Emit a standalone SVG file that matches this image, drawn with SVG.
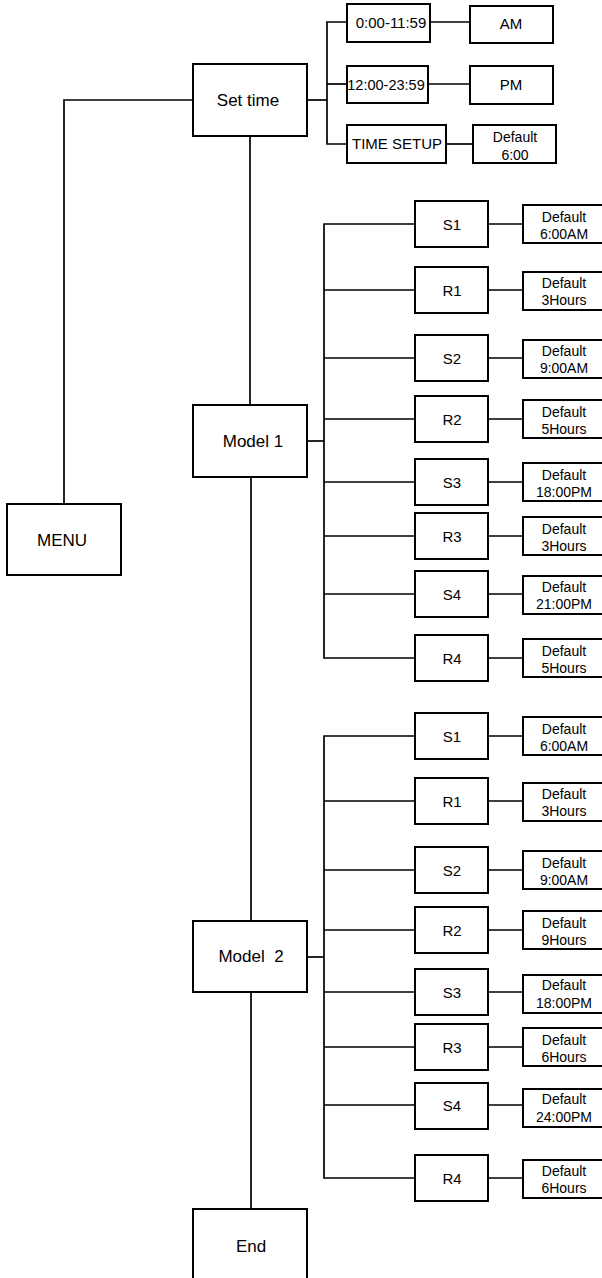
<svg xmlns="http://www.w3.org/2000/svg" width="602" height="1278" viewBox="0 0 602 1278">
<style>
rect{fill:#fff;stroke:#000;stroke-width:2}
text{font-family:"Liberation Sans",Arial,sans-serif;fill:#000;text-anchor:middle}
.big{font-size:17px}
.mid{font-size:15px}
.sm{font-size:14px}
#connectors line,#connectors polyline{stroke:#000;stroke-width:1.7;fill:none}
</style>
<rect x="0" y="0" width="602" height="1278" style="stroke:none"/>
<g id="connectors">
<polyline points="193,100 64,100 64,504"/>
<line x1="250" y1="136" x2="250" y2="405"/>
<line x1="251" y1="477" x2="251" y2="921"/>
<line x1="251" y1="992" x2="251" y2="1209"/>
<line x1="307" y1="100" x2="327" y2="100"/>
<polyline points="347,22 327,22 327,144 347,144"/>
<line x1="327" y1="84" x2="347" y2="84"/>
<line x1="430" y1="22" x2="470" y2="22"/>
<line x1="428" y1="84" x2="470" y2="84"/>
<line x1="446" y1="144" x2="473" y2="144"/>
<line x1="307" y1="441" x2="324" y2="441"/>
<polyline points="415,224 324,224 324,658 415,658"/>
<line x1="324" y1="290" x2="415" y2="290"/>
<line x1="324" y1="358" x2="415" y2="358"/>
<line x1="324" y1="419" x2="415" y2="419"/>
<line x1="324" y1="482" x2="415" y2="482"/>
<line x1="324" y1="536" x2="415" y2="536"/>
<line x1="324" y1="594" x2="415" y2="594"/>
<line x1="488" y1="224" x2="523" y2="224"/>
<line x1="488" y1="290" x2="523" y2="290"/>
<line x1="488" y1="358" x2="523" y2="358"/>
<line x1="488" y1="419" x2="523" y2="419"/>
<line x1="488" y1="482" x2="523" y2="482"/>
<line x1="488" y1="536" x2="523" y2="536"/>
<line x1="488" y1="594" x2="523" y2="594"/>
<line x1="488" y1="658" x2="523" y2="658"/>
<line x1="307" y1="957" x2="324" y2="957"/>
<polyline points="415,736 324,736 324,1178 415,1178"/>
<line x1="324" y1="801" x2="415" y2="801"/>
<line x1="324" y1="870" x2="415" y2="870"/>
<line x1="324" y1="930" x2="415" y2="930"/>
<line x1="324" y1="992" x2="415" y2="992"/>
<line x1="324" y1="1047" x2="415" y2="1047"/>
<line x1="324" y1="1105" x2="415" y2="1105"/>
<line x1="488" y1="736" x2="523" y2="736"/>
<line x1="488" y1="801" x2="523" y2="801"/>
<line x1="488" y1="870" x2="523" y2="870"/>
<line x1="488" y1="930" x2="523" y2="930"/>
<line x1="488" y1="992" x2="523" y2="992"/>
<line x1="488" y1="1047" x2="523" y2="1047"/>
<line x1="488" y1="1105" x2="523" y2="1105"/>
<line x1="488" y1="1178" x2="523" y2="1178"/>
</g>
<g id="menu"><rect x="7" y="504" width="114" height="71"/><text class="big" x="62" y="546">MENU</text></g>
<g id="settime"><rect x="193" y="64" width="114" height="72"/><text class="big" x="248" y="106">Set time</text></g>
<g id="am-range"><rect x="347" y="4" width="83" height="38"/><text class="mid" x="391" y="28">0:00-11:59</text></g>
<g id="am"><rect x="470" y="6" width="83" height="37"/><text class="mid" x="511" y="29">AM</text></g>
<g id="pm-range"><rect x="347" y="66" width="81" height="37"/><text class="mid" x="386" y="90" style="font-size:14.5px">12:00-23:59</text></g>
<g id="pm"><rect x="470" y="66" width="83" height="38"/><text class="mid" x="511" y="90">PM</text></g>
<g id="timesetup"><rect x="347" y="125" width="99" height="38"/><text class="mid" x="397" y="149">TIME SETUP</text></g>
<g id="timesetup-default"><rect x="473" y="125" width="83" height="38"/><text class="sm" x="515" y="142">Default</text><text class="sm" x="515" y="160">6:00</text></g>
<g id="model1"><rect x="193" y="405" width="114" height="72"/><text class="big" x="253" y="447">Model 1</text></g>
<g id="model2"><rect x="193" y="921" width="114" height="71"/><text class="big" x="251" y="962" style="white-space:pre">Model  2</text></g>
<g id="end"><rect x="193" y="1209" width="114" height="80"/><text class="big" x="251" y="1252">End</text></g>
<g id="m1-s1"><rect x="415" y="201" width="73" height="46"/><text class="mid" x="452" y="229.5">S1</text></g>
<g id="m1-s1-d"><rect x="523" y="205" width="90" height="38"/><text class="sm" x="564" y="222">Default</text><text class="sm" x="564" y="239">6:00AM</text></g>
<g id="m1-r1"><rect x="415" y="267" width="73" height="46"/><text class="mid" x="452" y="295.5">R1</text></g>
<g id="m1-r1-d"><rect x="523" y="272" width="90" height="38"/><text class="sm" x="564" y="288">Default</text><text class="sm" x="564" y="305">3Hours</text></g>
<g id="m1-s2"><rect x="415" y="335" width="73" height="46"/><text class="mid" x="452" y="363.5">S2</text></g>
<g id="m1-s2-d"><rect x="523" y="340" width="90" height="38"/><text class="sm" x="564" y="356">Default</text><text class="sm" x="564" y="373">9:00AM</text></g>
<g id="m1-r2"><rect x="415" y="396" width="73" height="46"/><text class="mid" x="452" y="424.5">R2</text></g>
<g id="m1-r2-d"><rect x="523" y="400" width="90" height="38"/><text class="sm" x="564" y="417">Default</text><text class="sm" x="564" y="434">5Hours</text></g>
<g id="m1-s3"><rect x="415" y="459" width="73" height="46"/><text class="mid" x="452" y="487.5">S3</text></g>
<g id="m1-s3-d"><rect x="523" y="463" width="90" height="38"/><text class="sm" x="564" y="480">Default</text><text class="sm" x="564" y="497">18:00PM</text></g>
<g id="m1-r3"><rect x="415" y="513" width="73" height="46"/><text class="mid" x="452" y="541.5">R3</text></g>
<g id="m1-r3-d"><rect x="523" y="517" width="90" height="38"/><text class="sm" x="564" y="534">Default</text><text class="sm" x="564" y="551">3Hours</text></g>
<g id="m1-s4"><rect x="415" y="571" width="73" height="46"/><text class="mid" x="452" y="599.5">S4</text></g>
<g id="m1-s4-d"><rect x="523" y="576" width="90" height="38"/><text class="sm" x="564" y="592">Default</text><text class="sm" x="564" y="609">21:00PM</text></g>
<g id="m1-r4"><rect x="415" y="635" width="73" height="46"/><text class="mid" x="452" y="663.5">R4</text></g>
<g id="m1-r4-d"><rect x="523" y="639" width="90" height="38"/><text class="sm" x="564" y="656">Default</text><text class="sm" x="564" y="673">5Hours</text></g>
<g id="m2-s1"><rect x="415" y="713" width="73" height="46"/><text class="mid" x="452" y="741.5">S1</text></g>
<g id="m2-s1-d"><rect x="523" y="717" width="90" height="38"/><text class="sm" x="564" y="734">Default</text><text class="sm" x="564" y="751">6:00AM</text></g>
<g id="m2-r1"><rect x="415" y="778" width="73" height="46"/><text class="mid" x="452" y="806.5">R1</text></g>
<g id="m2-r1-d"><rect x="523" y="783" width="90" height="38"/><text class="sm" x="564" y="799">Default</text><text class="sm" x="564" y="816">3Hours</text></g>
<g id="m2-s2"><rect x="415" y="847" width="73" height="46"/><text class="mid" x="452" y="875.5">S2</text></g>
<g id="m2-s2-d"><rect x="523" y="851" width="90" height="38"/><text class="sm" x="564" y="868">Default</text><text class="sm" x="564" y="885">9:00AM</text></g>
<g id="m2-r2"><rect x="415" y="907" width="73" height="46"/><text class="mid" x="452" y="935.5">R2</text></g>
<g id="m2-r2-d"><rect x="523" y="911" width="90" height="38"/><text class="sm" x="564" y="928">Default</text><text class="sm" x="564" y="945">9Hours</text></g>
<g id="m2-s3"><rect x="415" y="969" width="73" height="46"/><text class="mid" x="452" y="997.5">S3</text></g>
<g id="m2-s3-d"><rect x="523" y="975" width="90" height="38"/><text class="sm" x="564" y="990">Default</text><text class="sm" x="564" y="1008">18:00PM</text></g>
<g id="m2-r3"><rect x="415" y="1024" width="73" height="46"/><text class="mid" x="452" y="1052.5">R3</text></g>
<g id="m2-r3-d"><rect x="523" y="1028" width="90" height="38"/><text class="sm" x="564" y="1045">Default</text><text class="sm" x="564" y="1062">6Hours</text></g>
<g id="m2-s4"><rect x="415" y="1083" width="73" height="46"/><text class="mid" x="452" y="1110.5">S4</text></g>
<g id="m2-s4-d"><rect x="523" y="1089" width="90" height="38"/><text class="sm" x="564" y="1104">Default</text><text class="sm" x="564" y="1122">24:00PM</text></g>
<g id="m2-r4"><rect x="415" y="1155" width="73" height="46"/><text class="mid" x="452" y="1183.5">R4</text></g>
<g id="m2-r4-d"><rect x="523" y="1160" width="90" height="38"/><text class="sm" x="564" y="1176">Default</text><text class="sm" x="564" y="1193">6Hours</text></g>
</svg>
